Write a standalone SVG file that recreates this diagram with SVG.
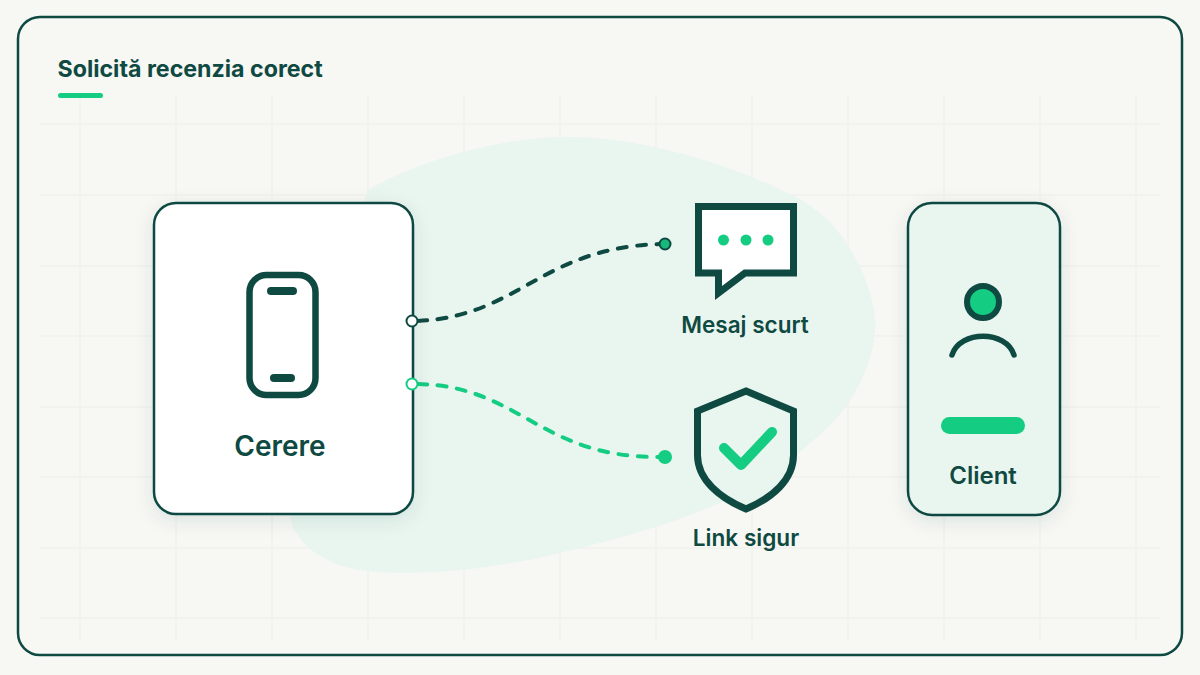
<svg xmlns="http://www.w3.org/2000/svg" width="1200" height="675" viewBox="0 0 1200 675">
<style>
text{font-family:Inter,"Liberation Sans",sans-serif;fill:#0f4a42;text-anchor:middle;font-weight:600}
.ink{fill:none;stroke:#0f4a42;stroke-width:6}
.grid line{stroke:#f0f0ec;stroke-width:1.5}
.mint{fill:#14cc82}
</style>
<defs>
<filter id="sh" x="-20%" y="-20%" width="140%" height="140%"><feDropShadow dx="0" dy="5" stdDeviation="9" flood-color="#0f4a42" flood-opacity="0.11"/></filter>
</defs>
<rect width="1200" height="675" fill="#f7f7f4"/>
<g class="grid">
<line x1="80" y1="96" x2="80" y2="640"/><line x1="176" y1="96" x2="176" y2="640"/><line x1="272" y1="96" x2="272" y2="640"/><line x1="368" y1="96" x2="368" y2="640"/><line x1="464" y1="96" x2="464" y2="640"/><line x1="560" y1="96" x2="560" y2="640"/><line x1="656" y1="96" x2="656" y2="640"/><line x1="752" y1="96" x2="752" y2="640"/><line x1="848" y1="96" x2="848" y2="640"/><line x1="944" y1="96" x2="944" y2="640"/><line x1="1040" y1="96" x2="1040" y2="640"/><line x1="1136" y1="96" x2="1136" y2="640"/>
<line x1="40" y1="124" x2="1160" y2="124"/><line x1="40" y1="195" x2="1160" y2="195"/><line x1="40" y1="266" x2="1160" y2="266"/><line x1="40" y1="336" x2="1160" y2="336"/><line x1="40" y1="407" x2="1160" y2="407"/><line x1="40" y1="477" x2="1160" y2="477"/><line x1="40" y1="548" x2="1160" y2="548"/><line x1="40" y1="618" x2="1160" y2="618"/>
</g>
<path d="M291 523C300 545 325 565 360 570C420 578 500 568 559 553C610 541 670 525 720 503C760 485 800 455 835 420C865 385 878 345 875 315C870 283 855 252 835 228C812 201 782 190 751 177C715 162 640 137 569 137C500 137 420 160 368 190C330 300 285 450 291 523Z" fill="#e9f5ef"/>
<rect x="18" y="17" width="1164" height="638" rx="22" fill="none" stroke="#0f4a42" stroke-width="2.5"/>
<g id="title">
<text x="57.500" y="77" font-size="23.200" style="font-weight:700;text-anchor:start">Solicită recenzia corect</text>
<rect x="58" y="93" width="45" height="5" rx="2.500" class="mint"/>
</g>
<g id="connectors" fill="none" stroke-width="4" stroke-dasharray="9 10.500" stroke-linecap="round">
<path d="M418 321C520 316 540 248 660 244" stroke="#0f4a42"/>
<path d="M418 384C520 386 540 458 660 457" stroke="#14cc82"/>
</g>
<g id="cerere">
<rect x="154" y="203" width="259" height="311" rx="22" fill="#fff" stroke="#0f4a42" stroke-width="2.500" filter="url(#sh)"/>
<rect x="249.500" y="275" width="66" height="120" rx="17" class="ink" style="stroke-width:6.500"/>
<rect x="267" y="287" width="30" height="8" rx="4" fill="#0f4a42"/>
<rect x="270" y="374" width="25" height="8" rx="4" fill="#0f4a42"/>
<text x="280" y="455.500" font-size="28">Cerere</text>
<circle cx="412" cy="321" r="5.500" fill="#fff" stroke="#0f4a42" stroke-width="2"/>
<circle cx="412" cy="384" r="5.500" fill="#fff" stroke="#14cc82" stroke-width="2"/>
</g>
<circle id="dot-mesaj" cx="665" cy="244" r="5.500" fill="#16b97a" stroke="#0f4a42" stroke-width="2"/>
<circle id="dot-link" cx="665" cy="457" r="7" class="mint"/>
<g id="mesaj">
<path d="M698.500 206.500H793.500V273H745L718.500 293V273H698.500Z" fill="#fff" stroke="#0f4a42" stroke-width="7" stroke-miterlimit="10"/>
<circle cx="723.500" cy="240" r="5.500" class="mint"/><circle cx="746" cy="240" r="5.500" class="mint"/><circle cx="768" cy="240" r="5.500" class="mint"/>
<text x="745" y="333" font-size="22.500">Mesaj scurt</text>
</g>
<g id="link">
<path d="M746 391L793.500 411V455C793.500 480 772 498 746 509C720 498 697.500 480 697.500 455V411Z" fill="#e9f5ef" stroke="#0f4a42" stroke-width="7" stroke-miterlimit="10"/>
<path d="M724 448L741 465L772 432" fill="none" stroke="#14cc82" stroke-width="10" stroke-linecap="round" stroke-linejoin="round"/>
<text x="746" y="546" font-size="22.600">Link sigur</text>
</g>
<g id="client">
<rect x="908" y="203" width="152" height="312" rx="24" fill="#e9f5ef" stroke="#0f4a42" stroke-width="2.500" filter="url(#sh)"/>
<circle cx="983" cy="302" r="16" class="mint" stroke="#0f4a42" stroke-width="6"/>
<path d="M952 355C960 330 1006 330 1014 355" fill="none" stroke="#0f4a42" stroke-width="5.500" stroke-linecap="round"/>
<rect x="941" y="417" width="84" height="17" rx="8.500" class="mint"/>
<text x="983" y="484" font-size="24">Client</text>
</g>
</svg>
